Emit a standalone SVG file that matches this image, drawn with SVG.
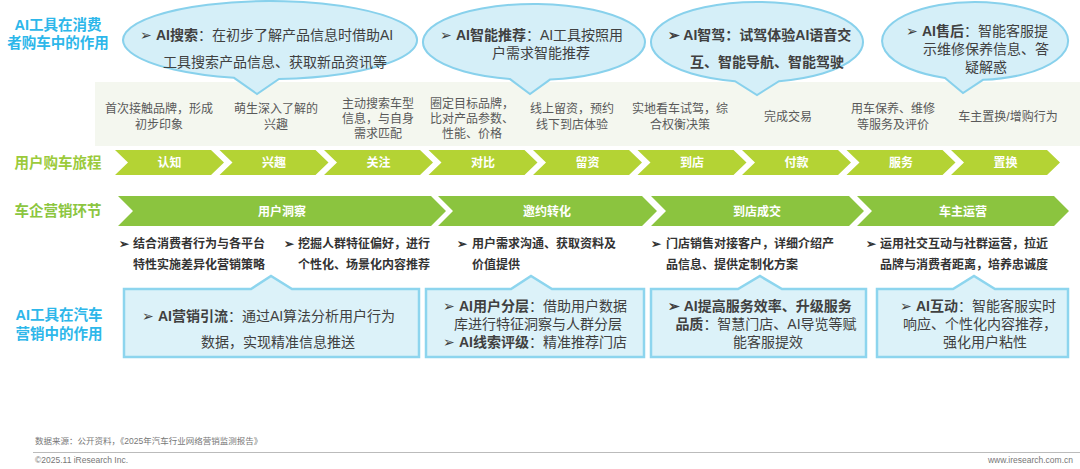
<svg xmlns="http://www.w3.org/2000/svg" width="1080" height="469" viewBox="0 0 1080 469">
<style>
text{font-family:"Liberation Sans","Noto Sans CJK SC",sans-serif}
.side{font-size:14.5px;font-weight:bold;fill:#2db7ea;text-anchor:middle}
.sideg{font-size:14.5px;font-weight:bold;fill:#8cc63f;text-anchor:middle}
.sidej{font-size:14.5px;font-weight:bold;fill:#9bca3a;text-anchor:middle}
.bub{fill:#d5eff8;stroke:#88d1ec;stroke-width:2}
.bt{font-size:14px;fill:#404040}
.b{font-weight:bold}
.desc{font-size:12px;fill:#595959;text-anchor:middle}
.chj{fill:#b4d334}
.chm{fill:#8bc43f}
.cl{font-size:12px;font-weight:bold;fill:#ffffff;text-anchor:middle}
.mk{font-size:12px;font-weight:bold;fill:#333333}
.box{fill:#dcf2f9;stroke:#8dd5ee;stroke-width:2.5}
.foot{font-size:8.5px;fill:#777777}
</style>
<rect x="95" y="82" width="985" height="64" fill="#f4f7ef"/>
<text class="side" x="58" y="30">AI工具在消费</text>
<text class="side" x="58" y="48">者购车中的作用</text>
<text class="sidej" x="58" y="168">用户购车旅程</text>
<text class="sideg" x="58" y="216">车企营销环节</text>
<text class="side" x="59" y="320">AI工具在汽车</text>
<text class="side" x="59" y="339">营销中的作用</text>
<g id="bubble1">
<path class="bub" d="M234 77.81 A147 39 0 1 1 279 78.93 L257 94 Z"/>
<text class="bt" x="140" y="40">➢ <tspan class="b">AI搜索</tspan>：在初步了解产品信息时借助AI</text>
<text class="bt" x="163" y="67">工具搜索产品信息、获取新品资讯等</text>
</g>
<g id="bubble2">
<path class="bub" d="M510 79.1 A111 38 0 1 1 550 79.6 L530 94 Z"/>
<text class="bt" x="440" y="40">➢ <tspan class="b">AI智能推荐</tspan>：AI工具按照用</text>
<text class="bt" x="492" y="58">户需求智能推荐</text>
</g>
<g id="bubble3">
<path class="bub" d="M735 81.13 A106 40 0 1 1 779 81.13 L757 95 Z"/>
<text class="bt b" x="668" y="40">➢ AI智驾：试驾体验AI语音交</text>
<text class="bt b" x="690" y="67">互、智能导航、智能驾驶</text>
</g>
<g id="bubble4">
<path class="bub" d="M945 77.9 A93 39 0 1 1 983 79.86 L963 93 Z"/>
<text class="bt" x="906" y="36">➢ <tspan class="b">AI售后</tspan>：智能客服提</text>
<text class="bt" x="986" y="54" text-anchor="middle">示维修保养信息、答</text>
<text class="bt" x="986" y="72" text-anchor="middle">疑解惑</text>
</g>
<g id="descriptions">
<text class="desc" x="159" y="113">首次接触品牌，形成</text>
<text class="desc" x="159" y="129">初步印象</text>
<text class="desc" x="276" y="113">萌生深入了解的</text>
<text class="desc" x="276" y="129">兴趣</text>
<text class="desc" x="378" y="108">主动搜索车型</text>
<text class="desc" x="378" y="123">信息，与自身</text>
<text class="desc" x="378" y="138">需求匹配</text>
<text class="desc" x="472" y="108">圈定目标品牌，</text>
<text class="desc" x="472" y="123">比对产品参数、</text>
<text class="desc" x="472" y="138">性能、价格</text>
<text class="desc" x="572" y="113">线上留资，预约</text>
<text class="desc" x="572" y="129">线下到店体验</text>
<text class="desc" x="680" y="113">实地看车试驾，综</text>
<text class="desc" x="680" y="129">合权衡决策</text>
<text class="desc" x="788" y="121">完成交易</text>
<text class="desc" x="893" y="113">用车保养、维修</text>
<text class="desc" x="893" y="129">等服务及评价</text>
<text class="desc" x="1008" y="121">车主置换/增购行为</text>
</g>
<g id="journey">
<path class="chj" d="M115 150 H211 L224 162.5 L211 175 H115 L128 162.5 Z"/>
<path class="chj" d="M219.5 150 H315.5 L328.5 162.5 L315.5 175 H219.5 L232.5 162.5 Z"/>
<path class="chj" d="M324 150 H420 L433 162.5 L420 175 H324 L337 162.5 Z"/>
<path class="chj" d="M428.5 150 H524.5 L537.5 162.5 L524.5 175 H428.5 L441.5 162.5 Z"/>
<path class="chj" d="M533 150 H629 L642 162.5 L629 175 H533 L546 162.5 Z"/>
<path class="chj" d="M637.5 150 H733.5 L746.5 162.5 L733.5 175 H637.5 L650.5 162.5 Z"/>
<path class="chj" d="M742 150 H838 L851 162.5 L838 175 H742 L755 162.5 Z"/>
<path class="chj" d="M846.5 150 H942.5 L955.5 162.5 L942.5 175 H846.5 L859.5 162.5 Z"/>
<path class="chj" d="M951 150 H1047 L1060 162.5 L1047 175 H951 L964 162.5 Z"/>
<text class="cl" x="169.5" y="167">认知</text>
<text class="cl" x="274" y="167">兴趣</text>
<text class="cl" x="378.5" y="167">关注</text>
<text class="cl" x="483" y="167">对比</text>
<text class="cl" x="587.5" y="167">留资</text>
<text class="cl" x="692" y="167">到店</text>
<text class="cl" x="796.5" y="167">付款</text>
<text class="cl" x="901" y="167">服务</text>
<text class="cl" x="1005.5" y="167">置换</text>
</g>
<g id="marketing">
<path class="chm" d="M118 196 H431 L446 211 L431 226 H118 L133 211 Z"/>
<path class="chm" d="M438 196 H642 L657 211 L642 226 H438 L453 211 Z"/>
<path class="chm" d="M651 196 H849 L864 211 L849 226 H651 L666 211 Z"/>
<path class="chm" d="M857 196 H1054 L1069 211 L1054 226 H857 L872 211 Z"/>
<text class="cl" x="282" y="215.5">用户洞察</text>
<text class="cl" x="547" y="215.5">邀约转化</text>
<text class="cl" x="757" y="215.5">到店成交</text>
<text class="cl" x="963" y="215.5">车主运营</text>
</g>
<g id="bullets">
<text class="mk" x="119" y="248">➢</text>
<text class="mk" x="133" y="248">结合消费者行为与各平台</text>
<text class="mk" x="133" y="269">特性实施差异化营销策略</text>
<text class="mk" x="284" y="248">➢</text>
<text class="mk" x="298" y="248">挖掘人群特征偏好，进行</text>
<text class="mk" x="298" y="269">个性化、场景化内容推荐</text>
<text class="mk" x="457" y="248">➢</text>
<text class="mk" x="472" y="248">用户需求沟通、获取资料及</text>
<text class="mk" x="472" y="269">价值提供</text>
<text class="mk" x="651" y="248">➢</text>
<text class="mk" x="666" y="248">门店销售对接客户，详细介绍产</text>
<text class="mk" x="666" y="269">品信息、提供定制化方案</text>
<text class="mk" x="866" y="248">➢</text>
<text class="mk" x="880" y="248">运用社交互动与社群运营，拉近</text>
<text class="mk" x="880" y="269">品牌与消费者距离，培养忠诚度</text>
</g>
<g id="box1">
<path class="box" d="M124 289 H251 L271 276 L292 289 H419 V357 H124 Z"/>
<text class="bt" x="142" y="321">➢ <tspan class="b">AI营销引流</tspan>：通过AI算法分析用户行为</text>
<text class="bt" x="278" y="347" text-anchor="middle">数据，实现精准信息推送</text>
</g>
<g id="box2">
<path class="box" d="M426 289 H511 L531 276 L552 289 H644 V357 H426 Z"/>
<text class="bt" x="443" y="311">➢ <tspan class="b">AI用户分层</tspan>：借助用户数据</text>
<text class="bt" x="538" y="329" text-anchor="middle">库进行特征洞察与人群分层</text>
<text class="bt" x="443" y="347">➢ <tspan class="b">AI线索评级</tspan>：精准推荐门店</text>
</g>
<g id="box3">
<path class="box" d="M651 289 H738 L760 276 L782 289 H866 V357 H651 Z"/>
<text class="bt" x="760" y="311" text-anchor="middle"><tspan class="b">➢ AI提高服务效率、升级服务</tspan></text>
<text class="bt" x="766" y="329" text-anchor="middle"><tspan class="b">品质</tspan>：智慧门店、AI导览等赋</text>
<text class="bt" x="768" y="347" text-anchor="middle">能客服提效</text>
</g>
<g id="box4">
<path class="box" d="M877 289 H953 L974 276 L995 289 H1068 V357 H877 Z"/>
<text class="bt" x="978" y="311" text-anchor="middle">➢ <tspan class="b">AI互动</tspan>：智能客服实时</text>
<text class="bt" x="980" y="329" text-anchor="middle">响应、个性化内容推荐，</text>
<text class="bt" x="985" y="347" text-anchor="middle">强化用户粘性</text>
</g>
<g id="footer">
<text class="foot" x="35" y="444">数据来源：公开资料，《2025年汽车行业网络营销监测报告》</text>
<line x1="33" y1="452.5" x2="1080" y2="452.5" stroke="#bbbbbb" stroke-width="1"/>
<text class="foot" x="35" y="463">©2025.11 iResearch Inc.</text>
<text class="foot" x="1073" y="463" text-anchor="end">www.iresearch.com.cn</text>
</g>
</svg>
